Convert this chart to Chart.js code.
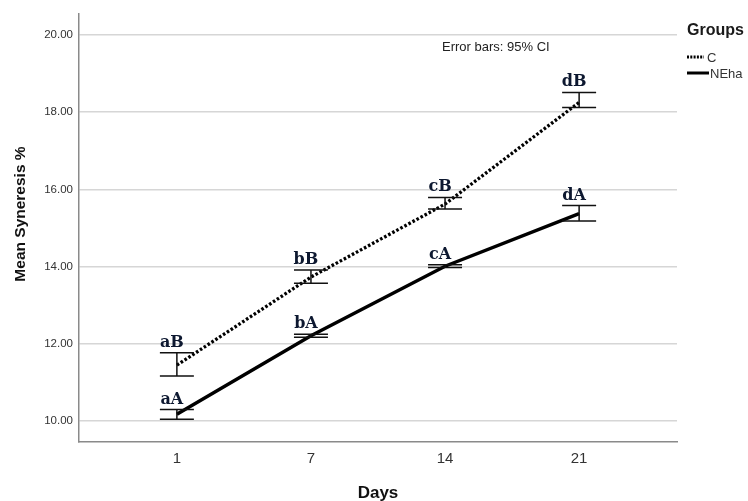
<!DOCTYPE html>
<html><head><meta charset="utf-8">
<script src="https://cdn.jsdelivr.net/npm/chart.js@4/dist/chart.umd.min.js"></script>
<style>html,body{margin:0;padding:0;background:#fff;}#wrap{width:748px;height:501px;}</style>
</head><body><div id="wrap"><canvas id="c" width="748" height="501"></canvas></div>
<script>
const days = ['1', '7', '14', '21'];
const yTicks = [10, 12, 14, 16, 18, 20];
const cMean = [11.45, 13.73, 15.62, 18.25];
const cLow = [11.17, 13.57, 15.49, 18.12];
const cHigh = [11.77, 13.91, 15.79, 18.51];
const nMean = [10.18, 12.21, 14.01, 15.37];
const nLow = [10.05, 12.17, 13.98, 15.18];
const nHigh = [10.30, 12.25, 14.05, 15.58];
const cLabels = ['aB', 'bB', 'cB', 'dB'];
const nLabels = ['aA', 'bA', 'cA', 'dA'];
const groupNames = ['C', 'NEha'];

const annot = {
  id: 'annot',
  afterDatasetsDraw(chart) {
    const ctx = chart.ctx, xs = chart.scales.x, ys = chart.scales.y;
    ctx.save();
    ctx.strokeStyle = '#111';
    ctx.lineWidth = 1.5;
    [[cLow, cHigh], [nLow, nHigh]].forEach(([lo, hi]) => {
      lo.forEach((v, i) => {
        const x = xs.getPixelForValue(i), y1 = ys.getPixelForValue(v), y2 = ys.getPixelForValue(hi[i]);
        ctx.beginPath();
        ctx.moveTo(x, y1); ctx.lineTo(x, y2);
        ctx.moveTo(x - 17, y1); ctx.lineTo(x + 17, y1);
        ctx.moveTo(x - 17, y2); ctx.lineTo(x + 17, y2);
        ctx.stroke();
      });
    });
    ctx.fillStyle = '#0d1830';
    ctx.font = 'bold 16px "DejaVu Serif"';
    ctx.textAlign = 'center';
    ctx.textBaseline = 'alphabetic';
    [[cLabels, cHigh], [nLabels, nHigh]].forEach(([labs, hi]) => {
      labs.forEach((t, i) => {
        ctx.fillText(t, xs.getPixelForValue(i) - 5, ys.getPixelForValue(hi[i]) - 6);
      });
    });
    ctx.restore();
  },
  afterDraw(chart) {
    const ctx = chart.ctx;
    ctx.save();
    ctx.fillStyle = '#222';
    ctx.font = '13px "Liberation Sans"';
    ctx.textAlign = 'left'; ctx.textBaseline = 'middle';
    ctx.fillText('Error bars: 95% CI', 442, 47);
    ctx.font = 'bold 16px "Liberation Sans"';
    ctx.fillStyle = '#1a1a1a';
    ctx.fillText('Groups', 687, 31);
    ctx.strokeStyle = '#000'; ctx.lineWidth = 3;
    ctx.setLineDash([2, 1.3]);
    ctx.beginPath(); ctx.moveTo(687, 57); ctx.lineTo(704, 57); ctx.stroke();
    ctx.setLineDash([]);
    ctx.beginPath(); ctx.moveTo(687, 73); ctx.lineTo(709, 73); ctx.stroke();
    ctx.font = '13px "Liberation Sans"';
    ctx.fillStyle = '#333';
    ctx.fillText(groupNames[0], 707, 58);
    ctx.fillText(groupNames[1], 710, 74);
    ctx.fillStyle = '#111';
    ctx.font = 'bold 17px "Liberation Sans"';
    ctx.textAlign = 'center';
    ctx.fillText('Days', 378, 493);
    ctx.translate(21, 214);
    ctx.rotate(-Math.PI / 2);
    ctx.font = 'bold 15.5px "Liberation Sans"';
    ctx.fillText('Mean Syneresis %', 0, 0);
    ctx.restore();
  }
};

new Chart(document.getElementById('c'), {
  type: 'line',
  data: {
    datasets: [
      {
        label: groupNames[0],
        data: cMean.map((v, i) => ({ x: i, y: v })),
        borderColor: '#000', borderWidth: 3.3, borderDash: [2.6, 2],
        pointRadius: 0, fill: false, tension: 0
      },
      {
        label: groupNames[1],
        data: nMean.map((v, i) => ({ x: i, y: v })),
        borderColor: '#000', borderWidth: 3.5,
        pointRadius: 0, fill: false, tension: 0
      }
    ]
  },
  options: {
    responsive: false,
    devicePixelRatio: 1,
    animation: false,
    layout: { padding: { left: 0, right: 71, top: 14, bottom: 0 } },
    plugins: { legend: { display: false }, tooltip: { enabled: false } },
    scales: {
      x: {
        type: 'linear', min: -0.73, max: 3.73,
        afterBuildTicks: s => { s.ticks = days.map((d, i) => ({ value: i })); },
        afterFit: s => { s.height = 59; },
        ticks: { callback: v => days[v], color: '#333', font: { family: 'Liberation Sans', size: 15 }, padding: 8, autoSkip: false, maxRotation: 0 },
        grid: { display: false, drawTicks: false },
        border: { display: true, color: '#8a8a8a', width: 1.5 }
      },
      y: {
        type: 'linear', min: 9.46, max: 20.54,
        afterBuildTicks: s => { s.ticks = yTicks.map(v => ({ value: v })); },
        afterFit: s => { s.width = 79; },
        ticks: { callback: v => v.toFixed(2), color: '#333', font: { family: 'Liberation Sans', size: 11.5 }, padding: 6 },
        grid: { color: '#d6d6d6', lineWidth: 1.5, drawTicks: false },
        border: { display: true, color: '#8a8a8a', width: 1.5 }
      }
    }
  },
  plugins: [annot]
});
</script>
</body></html>
